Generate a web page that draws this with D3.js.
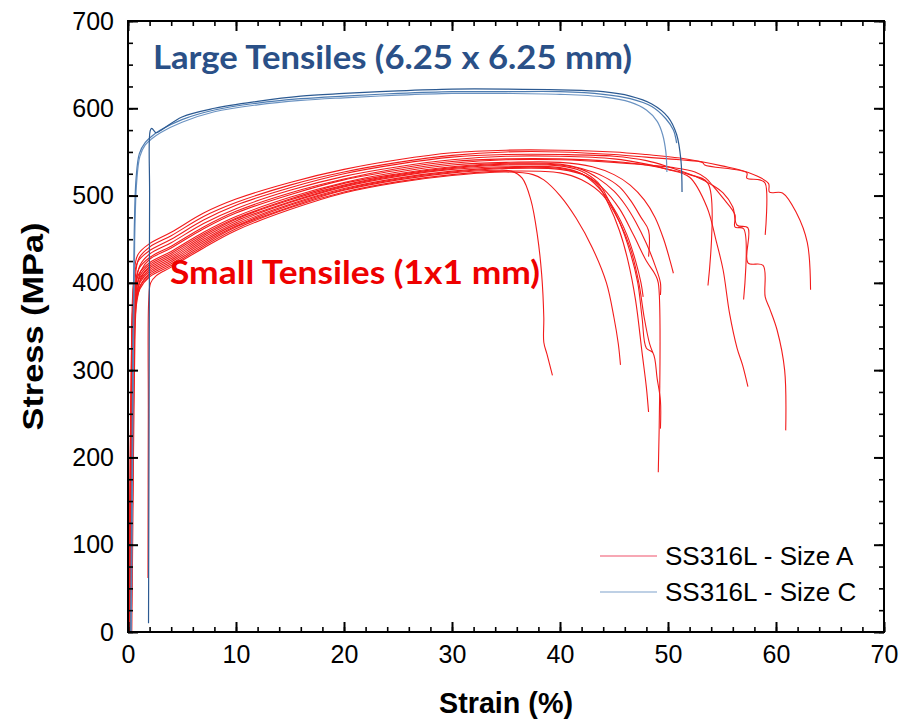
<!DOCTYPE html>
<html>
<head>
<meta charset="utf-8">
<script src="https://cdn.jsdelivr.net/npm/d3@7"></script>
<style>
  body { margin: 0; background: #fff; }
  svg { display: block; }
</style>
</head>
<body>
<div id="chart"></div>
<script>
const width = 904;
const height = 721;

// tick values
const strainTicks = [0, 10, 20, 30, 40, 50, 60, 70];
const strainMinor = d3.range(0, 71, 2);
const stressTicks = [0, 100, 200, 300, 400, 500, 600, 700];
const stressMinor = d3.range(0, 701, 25);

// Size A curves (small tensiles) : [strain %, stress MPa]
const a1 = [[0.2,0],[0.32,150],[0.45,300],[0.65,370],[1.1,396],[2,409],[4,422],[7,444],[10,464],[15,487],[20,506],[25,518],[30,526],[34,529],[35.5,528],[36.5,520],[37.3,495],[37.9,455],[38.3,410],[38.5,360],[38.5,332],[38.8,318],[39.3,294]];
const a2 = [[1.85,62],[1.88,250],[1.92,380],[2.1,400],[2.6,408],[4,418],[7,440],[10,460],[15,484],[20,503],[25,515],[30,523],[35,527],[37.5,524],[38.5,518],[40,500],[41.5,474],[43,440],[44.3,400],[45,360],[45.4,330],[45.6,306]];
const a3 = [[0.15,0],[0.27,150],[0.4,300],[0.6,374],[1.1,400],[2,413],[4,426],[7,448],[10,467],[15,490],[20,508],[25,520],[30,528],[35,532],[40,531],[42,525],[43.5,512],[44.5,490],[45.5,460],[46.3,425],[47,380],[47.6,320],[48,280],[48.2,252]];
const a4 = [[0.05,0],[0.17,150],[0.3,300],[0.5,378],[1,404],[2,417],[4,430],[7,452],[10,471],[15,493],[20,511],[25,523],[30,531],[35,535],[40,534],[42,528],[43.5,515],[44.5,495],[45.5,470],[46.5,435],[47.2,400],[47.6,360],[48,325],[48.6,320],[49,290],[49.3,265],[49.3,233]];
const a5 = [[0.3,0],[0.42,150],[0.55,300],[0.75,372],[1.2,398],[2,411],[4,424],[7,446],[10,465],[15,489],[20,507],[25,519],[30,527],[35,531],[40,530],[42.5,522],[44,508],[45.5,485],[46.8,455],[48,425],[48.8,410],[49.1,400],[49.1,183]];
const a6 = [[0.25,0],[0.37,150],[0.5,300],[0.7,376],[1.1,402],[2,415],[4,428],[7,450],[10,469],[15,492],[20,510],[25,522],[30,530],[35,533],[40,532],[42,525],[43.5,510],[45,485],[46.2,455],[47,425],[47.5,400],[47.7,384]];
const a7 = [[0.35,0],[0.47,150],[0.6,300],[0.8,380],[1.2,406],[2,419],[4,432],[7,454],[10,473],[15,495],[20,512],[25,524],[30,532],[35,536],[40,535],[42,530],[43.5,520],[45,505],[46,490],[47,470],[48,445],[48.8,420],[49.3,400],[49.3,386]];
const a8 = [[0.1,0],[0.22,150],[0.35,300],[0.55,384],[1,410],[2,423],[4,436],[7,458],[10,476],[15,498],[20,515],[25,527],[30,535],[35,538],[40,538],[43,533],[45,524],[46.5,512],[47.8,495],[48.8,475],[49.6,450],[50.2,425],[50.5,411]];
const a9 = [[0.15,0],[0.27,150],[0.4,300],[0.6,390],[1,416],[2,429],[4,442],[7,464],[10,482],[15,503],[20,519],[25,531],[30,539],[35,542],[40,542],[45,539],[48,535],[50,530],[52,524],[53.7,514],[53.7,397]];
const a10 = [[0.3,0],[0.42,150],[0.55,300],[0.75,388],[1.2,414],[2,427],[4,440],[7,462],[10,480],[15,501],[20,518],[25,529],[30,537],[35,541],[40,541],[45,538],[48,535],[50.5,532],[52.5,527],[53.5,520],[54.1,512],[55.1,497],[56.2,478],[56.2,464],[57,462],[57,381]];
const a11 = [[0.25,0],[0.37,150],[0.5,300],[0.7,394],[1.1,420],[2,433],[4,446],[7,468],[10,485],[15,506],[20,522],[25,533],[30,541],[35,545],[40,545],[45,542],[48,536],[50,530],[52,521],[53.6,487],[54.5,446],[55.1,415],[55.7,365],[56.4,325],[56.9,306],[57.4,281]];
const a12 = [[0.05,0],[0.17,150],[0.3,300],[0.5,398],[0.9,424],[2,437],[4,450],[7,472],[10,489],[15,509],[20,525],[25,536],[30,544],[35,547],[40,547],[45,545],[48,540],[50,533],[52.5,522],[54.1,512],[55.1,503],[56,487],[56.4,466],[57.4,463],[57.4,423],[58.8,420],[59,384],[59.4,371],[60.1,346],[60.8,300],[60.9,231]];
const a13 = [[0.2,0],[0.32,150],[0.45,300],[0.65,402],[1,428],[2,441],[4,454],[7,476],[10,492],[15,512],[20,527],[25,538],[30,546],[35,550],[40,550],[45,547],[48,544],[51.1,541],[53.2,538],[53.4,535],[57.3,526],[57.3,520],[58.5,518],[59,514],[59,455]];
const a14 = [[0.1,0],[0.22,150],[0.35,300],[0.55,406],[0.9,432],[2,445],[4,458],[7,480],[10,496],[15,515],[20,530],[25,541],[30,549],[35,552],[40,552],[45,550],[48,547],[51.1,543],[55,534],[57.3,527],[59.3,514],[59.4,504],[60.6,503],[61.9,480],[62.9,446],[63.2,392]];
const a15 = [[0.2,0],[0.32,150],[0.45,300],[0.65,382],[1.1,408],[2,421],[4,434],[7,456],[10,474],[15,496],[20,514],[25,525],[30,533],[35,537],[40,536],[42,531],[44,522],[45.5,510],[46.5,495],[47.5,475],[48.2,460],[48.2,430]];
const a16 = [[0.1,0],[0.22,150],[0.36,300],[0.56,365],[1.1,393],[2,407],[4,420],[7,442],[10,462],[15,486],[20,504],[25,516],[30,524],[35,528],[40,526],[42,518],[44,500],[45.5,470],[46.5,440],[47.3,400],[47.8,360],[48.3,330],[48.6,320]];

// Size C curves (large tensiles)
const c1 = [[0.3,0],[0.4,150],[0.5,320],[0.62,450],[0.8,515],[1.1,545],[1.6,558],[2.2,565],[3,572],[5,584],[8,596],[12,604],[16,609],[20,612],[25,615],[30,617],[35,617],[40,616],[44,613],[46.5,607],[48,598],[49,585],[49.5,570],[49.8,550],[49.9,527]];
const c2 = [[1.9,10],[1.95,250],[2.0,500],[2.05,574],[2.2,577],[2.6,572],[3.2,576],[5,590],[8,600],[12,608],[16,614],[20,617],[25,620],[30,622],[35,622],[40,621],[44,619],[46.5,614],[48.5,605],[50,590],[50.8,570],[51.2,540],[51.3,504]];
const c3 = [[0.25,0],[0.35,160],[0.45,330],[0.58,460],[0.75,520],[1.05,548],[1.6,561],[2.2,568],[3,575],[5,587],[8,598],[12,606],[16,611],[20,614],[25,617],[30,619],[35,619],[40,619],[44,616],[46.5,611],[48.5,602],[49.8,588],[50.5,575],[50.8,560]];

const sizeA = [a1, a2, a3, a4, a5, a6, a7, a8, a9, a10, a11, a12, a13, a14, a15, a16];
const sizeC = [c1, c3, c2];
const sizeCColors = ['#6b93c2', '#4f7db2', '#2c5a92'];

const redColor = '#f21b1b';
const fontArial = '"Liberation Sans", Arial, sans-serif';

const plot = { left: 128, right: 884, top: 21, bottom: 632 };

const svg = d3.select('#chart')
  .append('svg')
  .attr('width', width)
  .attr('height', height);

const xScale = d3.scaleLinear().domain([0, 70]).range([plot.left, plot.right]);
const yScale = d3.scaleLinear().domain([0, 700]).range([plot.bottom, plot.top]);

const curveLine = d3.line()
  .x(d => xScale(d[0]))
  .y(d => yScale(d[1]))
  .curve(d3.curveCatmullRom.alpha(0.5));

// curves
const curves = svg.append('g').attr('class', 'curves');

curves.selectAll('path.a')
  .data(sizeA)
  .join('path')
  .attr('class', 'a')
  .attr('d', curveLine)
  .attr('fill', 'none')
  .attr('stroke', redColor)
  .attr('stroke-width', 1.1);

curves.selectAll('path.c')
  .data(sizeC)
  .join('path')
  .attr('class', 'c')
  .attr('d', curveLine)
  .attr('fill', 'none')
  .attr('stroke', (d, i) => sizeCColors[i])
  .attr('stroke-width', 1.2);

// frame
svg.append('rect')
  .attr('x', plot.left)
  .attr('y', plot.top)
  .attr('width', plot.right - plot.left)
  .attr('height', plot.bottom - plot.top)
  .attr('fill', 'none')
  .attr('stroke', '#000')
  .attr('stroke-width', 2);

// axes, ticks pointing inward on all four sides
function addAxis(axis, tx, ty, size) {
  const g = svg.append('g')
    .attr('class', 'axis')
    .attr('transform', `translate(${tx},${ty})`)
    .call(axis);
  g.select('.domain').remove();
  g.selectAll('.tick line')
    .attr('stroke', '#000')
    .attr('stroke-width', size > 6 ? 2 : 1.6);
  return g;
}

addAxis(d3.axisBottom(xScale).tickValues(strainMinor).tickSizeInner(-5).tickSizeOuter(0).tickFormat(() => ''), 0, plot.bottom, 5);
const xAxis = addAxis(d3.axisBottom(xScale).tickValues(strainTicks).tickSizeInner(-10).tickSizeOuter(0).tickPadding(13).tickFormat(d3.format('d')), 0, plot.bottom, 10);
addAxis(d3.axisTop(xScale).tickValues(strainMinor).tickSizeInner(-5).tickSizeOuter(0).tickFormat(() => ''), 0, plot.top, 5);
addAxis(d3.axisTop(xScale).tickValues(strainTicks).tickSizeInner(-10).tickSizeOuter(0).tickFormat(() => ''), 0, plot.top, 10);
addAxis(d3.axisLeft(yScale).tickValues(stressMinor).tickSizeInner(-5).tickSizeOuter(0).tickFormat(() => ''), plot.left, 0, 5);
const yAxis = addAxis(d3.axisLeft(yScale).tickValues(stressTicks).tickSizeInner(-10).tickSizeOuter(0).tickPadding(14).tickFormat(d3.format('d')), plot.left, 0, 10);
addAxis(d3.axisRight(yScale).tickValues(stressMinor).tickSizeInner(-5).tickSizeOuter(0).tickFormat(() => ''), plot.right, 0, 5);
addAxis(d3.axisRight(yScale).tickValues(stressTicks).tickSizeInner(-10).tickSizeOuter(0).tickFormat(() => ''), plot.right, 0, 10);

[xAxis, yAxis].forEach(g => {
  g.selectAll('.tick text')
    .attr('fill', '#000')
    .style('font-family', fontArial)
    .style('font-size', '25px');
});

// axis titles
svg.append('text')
  .attr('x', (plot.left + plot.right) / 2)
  .attr('y', 713)
  .attr('text-anchor', 'middle')
  .style('font-family', fontArial)
  .style('font-weight', 'bold')
  .style('font-size', '29px')
  .attr('textLength', 134)
  .attr('lengthAdjust', 'spacingAndGlyphs')
  .text('Strain (%)');

svg.append('text')
  .attr('transform', `translate(43,${(plot.top + plot.bottom) / 2}) rotate(-90)`)
  .attr('text-anchor', 'middle')
  .style('font-family', fontArial)
  .style('font-weight', 'bold')
  .style('font-size', '30px')
  .attr('textLength', 208)
  .attr('lengthAdjust', 'spacingAndGlyphs')
  .text('Stress (MPa)');

// annotations
svg.append('text')
  .attr('x', 153)
  .attr('y', 69)
  .attr('fill', '#2a5087')
  .style('font-family', 'Lato, "Open Sans", sans-serif')
  .style('font-weight', 'bold')
  .style('font-size', '33px')
  .attr('textLength', 479)
  .attr('lengthAdjust', 'spacingAndGlyphs')
  .text('Large Tensiles (6.25 x 6.25 mm)');

svg.append('text')
  .attr('x', 170)
  .attr('y', 284)
  .attr('fill', '#ee0000')
  .style('font-family', 'Lato, "Open Sans", sans-serif')
  .style('font-weight', 'bold')
  .style('font-size', '33px')
  .attr('textLength', 370)
  .attr('lengthAdjust', 'spacingAndGlyphs')
  .text('Small Tensiles (1x1 mm)');

// legend
const legendItems = [
  { label: 'SS316L - Size A', color: '#f0506a' },
  { label: 'SS316L - Size C', color: '#7ea2cc' },
];
const legend = svg.append('g').attr('transform', 'translate(600,556)');
legendItems.forEach((item, i) => {
  const g = legend.append('g').attr('transform', `translate(0,${i * 36})`);
  g.append('line')
    .attr('x1', 0).attr('x2', 57)
    .attr('y1', 0).attr('y2', 0)
    .attr('stroke', item.color)
    .attr('stroke-width', 1.2);
  g.append('text')
    .attr('x', 65)
    .attr('y', 9)
    .style('font-family', fontArial)
    .style('font-size', '26px')
    .text(item.label);
});
</script>
</body>
</html>
